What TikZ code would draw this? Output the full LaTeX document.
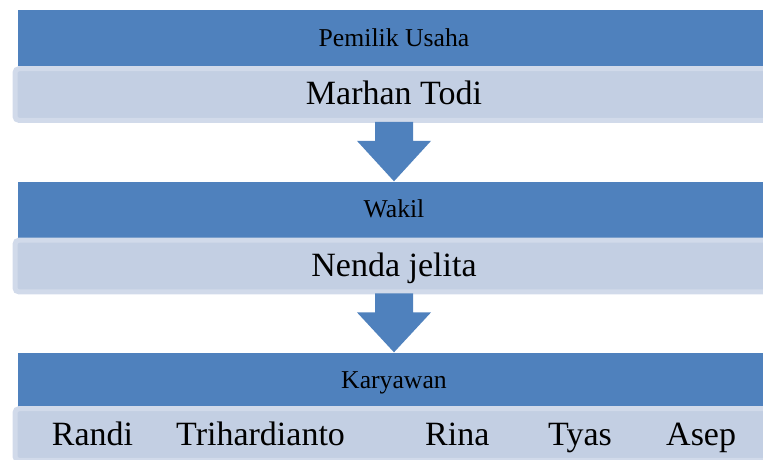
\documentclass[tikz,border=0pt]{standalone}
\usepackage{fontspec}
\setmainfont{Liberation Serif}
\usetikzlibrary{calc, positioning}

\definecolor{hdrblue}{HTML}{4F81BD}
\definecolor{boxfill}{HTML}{C3CFE3}
\definecolor{boxedge}{HTML}{D1DAEA}

\begin{document}
\begin{tikzpicture}[x=1pt, y=-1pt,
    header/.style={fill=hdrblue, minimum width=752.6pt, minimum height=56pt,
      inner sep=0pt, font=\fontsize{25.7}{30}\selectfont,
      text height=17pt, text depth=1pt},
    namebox/.style={fill=boxfill, draw=boxedge, line width=5pt, rounded corners=4pt,
      minimum width=758pt, minimum height=51.7pt, inner sep=0pt,
      font=\fontsize{34}{40}\selectfont, text height=21pt, text depth=1pt},
    member/.style={anchor=base west, inner sep=0pt, font=\fontsize{34}{40}\selectfont},
    blockarrow/.style={fill=hdrblue}]

  \useasboundingbox (0,0) rectangle (763,459);
  \clip (0,0) rectangle (763,459);

  % --- Pemilik usaha ---
  \node[header] (hdrA) at (394,38) {Pemilik Usaha};
  \node[namebox, below=0pt of hdrA] (boxA) {Marhan Todi};

  % --- Wakil ---
  \node[header] (hdrB) at (394,209.5) {Wakil};
  \node[namebox, below=0pt of hdrB] (boxB) {Nenda jelita};

  % --- Karyawan ---
  \node[header] (hdrC) at (394,380.5) {Karyawan};
  \node[namebox, below=-2.5pt of hdrC] (boxC) {};

  % nama karyawan
  \node[member] (randi) at (51.7,445) {Randi};
  \node[member] (tri)   at (176,445)  {Trihardianto};
  \node[member] (rina)  at (425,445)  {Rina};
  \node[member] (tyas)  at (548,445)  {Tyas};
  \node[member] (asep)  at (666,445)  {Asep};

  % --- panah blok ---
  \fill[blockarrow] ($(boxA.south)+(-19,-1)$) -- ++(0,19) -- ++(-18,0)
      -- (hdrB.north) -- ($(boxA.south)+(37,18)$) -- ++(-18,0) -- ++(0,-19) -- cycle;
  \fill[blockarrow] ($(boxB.south)+(-19,-1)$) -- ++(0,19) -- ++(-18,0)
      -- (hdrC.north) -- ($(boxB.south)+(37,18)$) -- ++(-18,0) -- ++(0,-19) -- cycle;

\end{tikzpicture}
\end{document}
